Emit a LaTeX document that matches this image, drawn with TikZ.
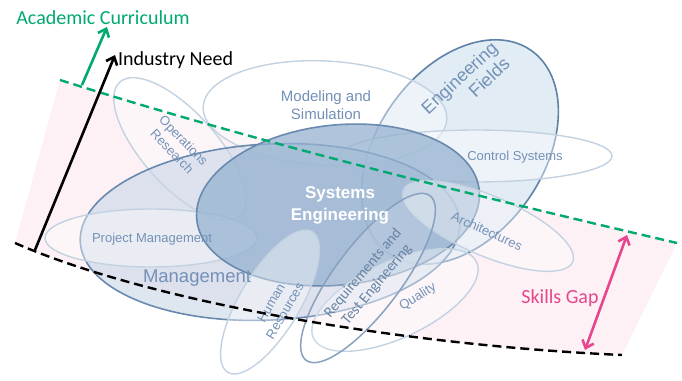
\documentclass[tikz,border=0pt]{standalone}
\usepackage{fontspec}
\setmainfont{Liberation Sans}
\newfontfamily\calibri{Carlito}
\usetikzlibrary{positioning}
\usetikzlibrary{backgrounds}
\usetikzlibrary{shapes.geometric}
\usetikzlibrary{arrows.meta}

\definecolor{curric}{RGB}{0,170,110}
\definecolor{gappink}{RGB}{232,70,140}
\definecolor{gapbg}{RGB}{253,241,246}
\definecolor{seblue}{RGB}{150,178,208}
\definecolor{seline}{RGB}{105,138,175}
\definecolor{mgblue}{RGB}{200,214,231}
\definecolor{efblue}{RGB}{215,228,241}
\definecolor{efline}{RGB}{95,130,168}
\definecolor{ringline}{RGB}{195,210,225}
\definecolor{lblblue}{RGB}{115,145,182}

\begin{document}
\begin{tikzpicture}[x=1pt, y=1pt,
    ring/.style={ellipse, draw=ringline, line width=1.4pt, fill=white, fill opacity=0.4, inner sep=0pt},
    bigring/.style={ellipse, draw=seline, line width=1.6pt, fill=mgblue, fill opacity=0.6, inner sep=0pt},
    lbl/.style={text=lblblue, align=center, inner sep=0pt, font=\fontsize{13}{16}\selectfont},
    dashline/.style={line width=2.4pt, dash pattern=on 9pt off 5pt},
    arrowline/.style={line width=2.6pt, -{Straight Barb[length=7pt,width=12pt]}}
  ]

    \useasboundingbox (0,0) rectangle (682,380);
    \fill[white] (0,0) rectangle (682,380);

    % Coordinates
    \coordinate (acL) at (60,300);
    \coordinate (acR) at (677,137);
    \coordinate (indL) at (15,137);
    \coordinate (indR) at (622,25);

    % Gap
    \fill[gapbg] (acL) .. controls (250,240) and (450,190) .. (acR) -- (indR) .. controls (400,35) and (150,78) .. (indL) -- cycle;

    % Fields
    \node[ellipse, draw=efline, line width=1.6pt, fill=efblue, fill opacity=0.7, inner sep=0pt, minimum width=248pt, minimum height=166pt, rotate=55] (engf) at (460,228) {};
    \node[ring, minimum width=244pt, minimum height=104pt, rotate=-3] (model) at (325,267) {};
    \node[ring, minimum width=272pt, minimum height=52pt] (ctrl) at (476,224) {};
    \node[ring, minimum width=180pt, minimum height=74pt, rotate=-48] (opres) at (180,231) {};
    \node[bigring, minimum width=380pt, minimum height=176pt, rotate=3] (mgmt) at (270,148) {};
    \node[ring, minimum width=212pt, minimum height=58pt] (projm) at (151,142) {};
    \node[ellipse, draw=seline, line width=1.6pt, fill=seblue, fill opacity=0.75, inner sep=0pt, minimum width=284pt, minimum height=160pt, rotate=6] (syseng) at (338,175) {};
    \node[ring, minimum width=184pt, minimum height=60pt, rotate=-23] (arch) at (488,154) {};
    \node[ring, minimum width=180pt, minimum height=76pt, rotate=25] (qual) at (395,80) {};
    \node[ring, minimum width=164pt, minimum height=60pt, rotate=59] (hres) at (270,78) {};
    \node[ellipse, draw=seline!80, line width=1.5pt, fill=white, fill opacity=0.15, inner sep=0pt, minimum width=206pt, minimum height=66pt, rotate=53] (reqs) at (368,102) {};

    % Labels
    \node[lbl, text=white, font=\bfseries\fontsize{17}{22}\selectfont] (seText) at (340,175) {Systems\\Engineering};
    \node[lbl, font=\fontsize{18.5}{20}\selectfont] (mgText) at (197,102) {Management};
    \node[lbl] (pmText) at (152,141) {Project Management};
    \node[lbl, rotate=-46] (orText) at (178,234) {Operations\\Research};
    \node[lbl, font=\fontsize{15}{18}\selectfont] (msText) at (326,275) {Modeling and\\Simulation};
    \node[lbl, font=\fontsize{18}{20}\selectfont, rotate=43] (efText) at (466,295) {Engineering\\\hspace*{44pt}Fields};
    \node[lbl] (csText) at (515,223) {Control Systems};
    \node[lbl, rotate=-24] (arText) at (487,149) {Architectures};
    \node[lbl, rotate=32] (quText) at (418,83) {Quality};
    \node[lbl, rotate=60] (hrText) at (278,73) {Human\\Resources};
    \node[lbl, text=lblblue!90!black, font=\calibri\fontsize{15}{18}\selectfont, rotate=50] (rqText) at (370,101) {Requirements and\\Test Engineering};

    % Curves
    \draw[dashline, curric] (acL) .. controls (250,240) and (450,190) .. (acR);
    \draw[dashline, black] (indL) .. controls (150,78) and (400,35) .. (indR);

    % Arrows
    \coordinate (needB) at (35,130);
    \coordinate (needT) at (115,325);
    \coordinate (acB) at (82,295);
    \coordinate (acT) at (107,353);
    \coordinate (gapB) at (585,30);
    \coordinate (gapT) at (627,145);
    \draw[arrowline, black] (needB) -- (needT);
    \draw[arrowline, curric] (acB) -- (acT);
    \draw[arrowline, gappink, {Straight Barb[length=7pt,width=12pt]}-{Straight Barb[length=7pt,width=12pt]}] (gapB) -- (gapT);

    \node[anchor=west, inner sep=0pt, font=\calibri\fontsize{20}{24}\selectfont] (need) at (118,320) {Industry Need};
    \node[inner sep=0pt, text=curric, font=\calibri\fontsize{20}{24}\selectfont] (acad) at (103,362) {Academic Curriculum};
    \node[inner sep=0pt, text=gappink, font=\calibri\fontsize{20}{24}\selectfont] (gap) at (560,82) {Skills Gap};
  \end{tikzpicture}
\end{document}
